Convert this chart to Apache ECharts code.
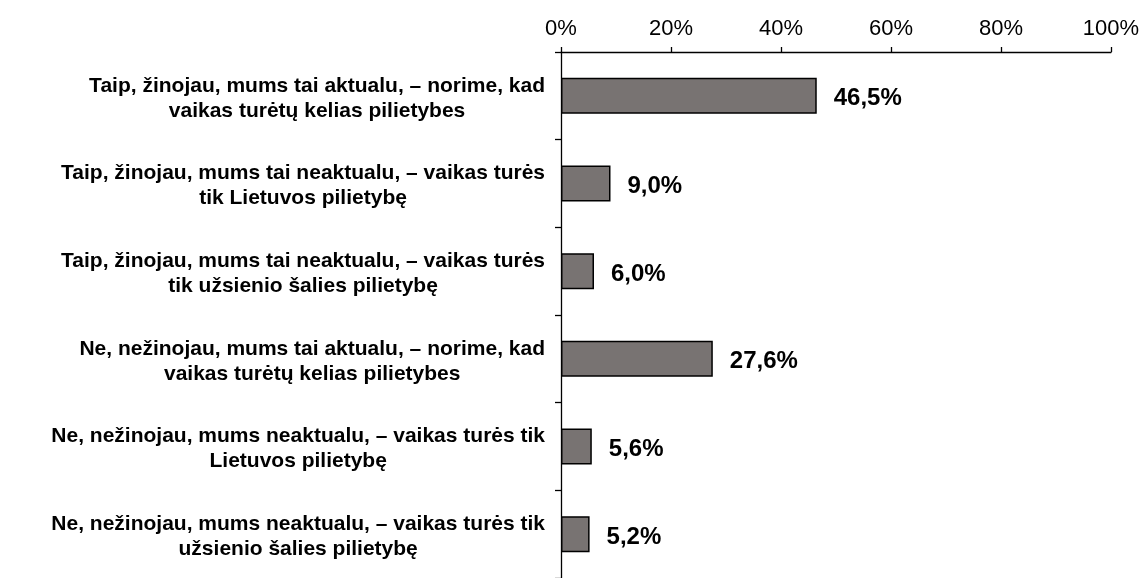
<!DOCTYPE html>
<html>
<head>
<meta charset="utf-8">
<script src="https://cdn.jsdelivr.net/npm/echarts@6/dist/echarts.min.js"></script>
<style>
  html, body { margin: 0; padding: 0; background: #ffffff; }
  #chart { width: 1144px; height: 578px; }
</style>
</head>
<body>
<div id="chart"></div>
<script>
const categories = [
  "Taip, žinojau, mums tai aktualu, – norime, kad\nvaikas turėtų kelias pilietybes",
  "Taip, žinojau, mums tai neaktualu, – vaikas turės\ntik Lietuvos pilietybę",
  "Taip, žinojau, mums tai neaktualu, – vaikas turės\ntik užsienio šalies pilietybę",
  "Ne, nežinojau, mums tai aktualu, – norime, kad\nvaikas turėtų kelias pilietybes",
  "Ne, nežinojau, mums neaktualu, – vaikas turės tik\nLietuvos pilietybę",
  "Ne, nežinojau, mums neaktualu, – vaikas turės tik\nužsienio šalies pilietybę"
];
const values = [46.5, 9.0, 6.0, 27.6, 5.6, 5.2];
const axisMin = 0;
const axisMax = 100;
const axisStep = 20;

const FONT = "'Liberation Sans', Arial, sans-serif";
const chart = echarts.init(document.getElementById('chart'), null, { renderer: 'canvas' });

chart.setOption({
  animation: false,
  backgroundColor: '#ffffff',
  grid: { left: 561, right: 33, top: 52, bottom: -8, containLabel: false },
  xAxis: {
    type: 'value',
    position: 'top',
    min: axisMin,
    max: axisMax,
    interval: axisStep,
    axisLine: { show: true, lineStyle: { color: '#000', width: 1.3 } },
    axisTick: { show: true, inside: false, length: 5, lineStyle: { color: '#000', width: 1.3 } },
    splitLine: { show: false },
    axisLabel: {
      color: '#000', fontFamily: FONT, fontSize: 22, margin: 12,
      formatter: v => v + '%'
    }
  },
  yAxis: {
    type: 'category',
    inverse: true,
    data: categories,
    axisLine: { show: true, lineStyle: { color: '#000', width: 1.3 } },
    axisTick: { show: true, inside: false, length: 6, alignWithLabel: false, lineStyle: { color: '#000', width: 1.3 } },
    axisLabel: {
      align: 'right',
      margin: 16,
      padding: [5, 0, 0, 0],
      color: '#000',
      formatter: v => v.split('\n').map(l => '{c|' + l + '}').join('\n'),
      rich: {
        c: {
          align: 'center',
          fontFamily: FONT,
          fontSize: 21,
          fontWeight: 'bold',
          lineHeight: 25,
          color: '#000'
        }
      }
    }
  },
  series: [{
    type: 'bar',
    data: values,
    barWidth: 36,
    itemStyle: { color: '#787372', borderColor: '#000', borderWidth: 1.5 },
    label: {
      show: true,
      position: 'right',
      distance: 17,
      offset: [0, 3],
      color: '#000',
      fontFamily: FONT,
      fontSize: 24,
      fontWeight: 'bold',
      formatter: p => p.value.toFixed(1).replace('.', ',') + '%'
    }
  }]
});
</script>
</body>
</html>
